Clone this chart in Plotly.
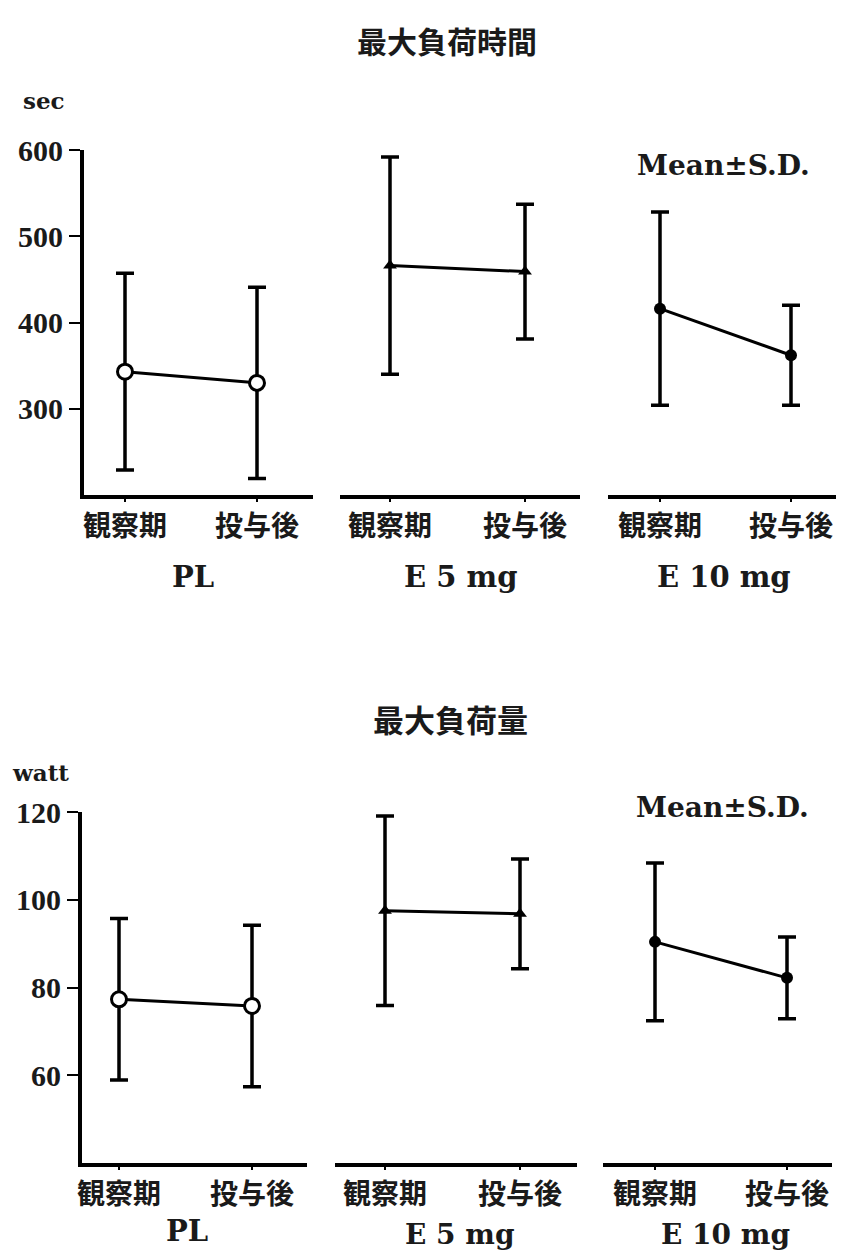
import plotly.graph_objects as go

phases = ['観察期', '投与後']
groups = ['PL', 'E 5mg', 'E 10mg']

# 最大負荷時間 (sec)
time_mean = {'PL': [343, 330], 'E 5mg': [466, 459], 'E 10mg': [416, 362]}
time_sd = {'PL': [114, 111], 'E 5mg': [126, 78], 'E 10mg': [112, 58]}

# 最大負荷量 (watt)
load_mean = {'PL': [77.3, 75.8], 'E 5mg': [97.5, 96.8], 'E 10mg': [90.4, 82.2]}
load_sd = {'PL': [18.4, 18.4], 'E 5mg': [21.6, 12.5], 'E 10mg': [18.0, 9.3]}

time_ticks = [300, 400, 500, 600]
load_ticks = [60, 80, 100, 120]

# page has an 8px body margin, so the figure is shrunk to fit the window
PAD = 8
W, H = 844 - 2 * PAD, 1259 - 2 * PAD
serif = 'DejaVu Serif'
num_font = 'Liberation Serif'
cjk = 'Noto Sans CJK JP'
ink = '#1a1a1a'


def fx(px):
    return min(max((px - PAD) / W, 0), 1)


def fy(py):
    return min(max(1 - (py - PAD) / H, 0), 1)


markers = {
    'PL': dict(symbol='circle', size=15, color='white', line=dict(color='black', width=3)),
    'E 5mg': dict(symbol='triangle-up', size=12, color='black'),
    'E 10mg': dict(symbol='circle', size=12, color='black'),
}

# panel pixel layout: (x0, x1, tick0, tick1)
panels_top = {'PL': (84, 313, 125, 257), 'E 5mg': (340, 580, 390, 525), 'E 10mg': (608, 836, 660, 791)}
panels_bot = {'PL': (82, 307, 119, 252), 'E 5mg': (335, 577, 385, 520), 'E 10mg': (603, 832, 655, 787)}

fig = go.Figure()
layout = dict(width=W, height=H, margin=dict(l=0, r=0, t=0, b=0, autoexpand=False),
              plot_bgcolor='white', paper_bgcolor='white', showlegend=False,
              template='none')

rows = [
    (time_mean, time_sd, panels_top, (150, 495), [200, 600], time_ticks),
    (load_mean, load_sd, panels_bot, (812, 1163), [40, 120], load_ticks),
]

n = 0
for mean, sd, panels, (py0, py1), yr, yt in rows:
    for g in groups:
        n += 1
        sfx = '' if n == 1 else str(n)
        x0, x1, t0, t1 = panels[g]
        sp = t1 - t0
        xr = [-(t0 - x0) / sp, 1 + (x1 - t1) / sp]
        fig.add_trace(go.Scatter(
            x=[0, 1], y=mean[g], mode='lines+markers',
            line=dict(color='black', width=3),
            marker=markers[g],
            error_y=dict(type='data', array=sd[g], color='black', thickness=3.5, width=9),
            xaxis='x' + sfx, yaxis='y' + sfx, cliponaxis=False))
        layout['xaxis' + sfx] = dict(
            domain=[fx(x0), fx(x1)], range=xr, anchor='y' + sfx, automargin=False,
            tickvals=[0, 1], ticktext=phases, ticks='outside', ticklen=3, tickwidth=1.5,
            tickcolor='black', showline=True, linecolor='black', linewidth=4,
            showgrid=False, zeroline=False,
            tickfont=dict(family=cjk, size=28, color=ink, weight='bold'))
        layout['yaxis' + sfx] = dict(
            domain=[fy(py1), fy(py0)], range=yr, anchor='x' + sfx, automargin=False,
            tickvals=yt, ticks='outside' if g == 'PL' else '', ticklen=11, tickwidth=2,
            tickcolor='black', showline=(g == 'PL'), linecolor='black', linewidth=4,
            showticklabels=(g == 'PL'), showgrid=False, zeroline=False,
            tickfont=dict(family=num_font, size=30, color=ink, weight='bold'))

fig.update_layout(**layout)

ann = [
    ('最大負荷時間', 447, 40, cjk, 30),
    ('最大負荷量', 450, 718, cjk, 31),
    ('sec', 44, 100, serif, 23),
    ('watt', 40, 772, serif, 23),
    ('Mean±S.D.', 723, 166, serif, 28),
    ('Mean±S.D.', 722, 807, serif, 28),
    ('PL', 193, 577, serif, 29),
    ('E 5 mg', 460, 577, serif, 29),
    ('E 10 mg', 724, 577, serif, 29),
    ('PL', 187, 1231, serif, 29),
    ('E 5 mg', 460, 1234, serif, 28),
    ('E 10 mg', 725, 1234, serif, 28),
]
for text, px, py, fam, size in ann:
    fig.add_annotation(text=text, x=fx(px), y=fy(py), xref='paper', yref='paper',
                       showarrow=False, xanchor='center', yanchor='middle',
                       font=dict(family=fam, size=size, color=ink, weight='bold'))

fig.write_html("out.html")
